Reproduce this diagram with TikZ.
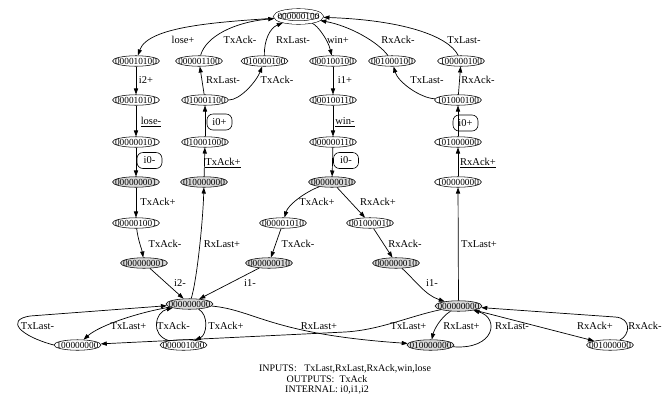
\documentclass[tikz,border=0pt]{standalone}
\usepackage{fontspec}
\setmainfont{Liberation Serif}
\usetikzlibrary{arrows.meta,shapes.geometric}
\definecolor{gry}{HTML}{DADADA}
% state code printed inside a fixed-size ellipse
\newcommand{\stcode}[1]{\makebox[0pt]{\raisebox{-3.1pt}[0pt][0pt]{\fontsize{9.3}{10}\selectfont #1}}}
\tikzset{
  st/.style={ellipse, draw, line width=0.55pt, minimum width=47pt, minimum height=10.5pt, inner sep=0pt},
  gst/.style={st, fill=gry},
  lbl/.style={font=\fontsize{10.5}{12}\selectfont, inner sep=0pt},
  ftr/.style={font=\fontsize{10}{11}\selectfont, inner sep=0pt},
  bx/.style={lbl, draw, line width=0.6pt, rounded corners=6pt, minimum width=25pt, minimum height=16pt},
  ed/.style={line width=0.7pt, -{Triangle[length=6pt,width=4.2pt]}},
}
\begin{document}
\begin{tikzpicture}[x=1pt,y=-1pt]
\fill[white] (0,0) rectangle (669,408);
\useasboundingbox (0,0) rectangle (669,408);

% states
\node[st, double, double distance=3pt, minimum width=46pt, minimum height=12pt, outer sep=2.1pt] (T) at (298.5,16.5) {\stcode{000000100}};
\node[st] (a1) at (136,61) {\stcode{000010100}};
\node[st] (b1) at (199,61) {\stcode{000001100}};
\node[st] (c1) at (264.5,61) {\stcode{010000100}};
\node[st] (d1) at (333,61) {\stcode{000100100}};
\node[st] (e1) at (392,61) {\stcode{001000100}};
\node[st] (f1) at (461,61) {\stcode{100000100}};
\node[st] (a2) at (136,100) {\stcode{000010101}};
\node[st] (b2) at (205,100) {\stcode{010001100}};
\node[st] (d2) at (333,100) {\stcode{000100110}};
\node[st] (f2) at (458,100) {\stcode{101000100}};
\node[st] (a3) at (136,142) {\stcode{000000101}};
\node[st] (b3) at (205,142) {\stcode{010001000}};
\node[st] (d3) at (333,142) {\stcode{000000110}};
\node[st] (f3) at (458,142) {\stcode{101000000}};
\node[gst] (a4) at (136,182) {\stcode{000000001}};
\node[gst] (b4) at (204,182) {\stcode{010000000}};
\node[gst] (d4) at (332,182) {\stcode{000000010}};
\node[st] (f4) at (458,182) {\stcode{100000000}};
\node[st] (a5) at (136,223) {\stcode{000001001}};
\node[st] (d5) at (283,223) {\stcode{000001010}};
\node[st] (e5) at (370,223) {\stcode{001000010}};
\node[gst] (a6) at (144,263) {\stcode{000000001}};
\node[gst] (d6) at (269,263) {\stcode{000000010}};
\node[gst] (e6) at (396,263) {\stcode{000000010}};
\node[gst] (h1) at (189.5,304) {\stcode{000000000}};
\node[gst] (h2) at (458.5,306) {\stcode{000000000}};
\node[st] (l1) at (77.5,345) {\stcode{100000000}};
\node[st] (l2) at (183.5,345) {\stcode{000001000}};
\node[gst] (m) at (430.5,345) {\stcode{010000000}};
\node[st] (r) at (610,345) {\stcode{001000000}};

% transitions around the top state
\draw[ed] (T) .. controls (220,22) and (148,26) .. (a1);
\draw[ed] (b1) .. controls (206,36) and (235,22) .. (T);
\draw[ed] (c1) .. controls (264,40) and (270,28) .. (T);
\draw[ed] (T) .. controls (318,26) and (328,40) .. (d1);
\draw[ed] (e1) .. controls (378,42) and (350,26) .. (T);
\draw[ed] (f1) .. controls (448,35) and (400,20) .. (T);

% second row
\draw[ed] (a1) -- (a2);
\draw[ed] (b2) -- (b1);
\draw[ed] (b2) .. controls (240,100) and (256,82) .. (c1);
\draw[ed] (d1) -- (d2);
\draw[ed] (f2) .. controls (420,98) and (398,82) .. (e1);
\draw[ed] (f2) -- (f1);

% vertical chains
\draw[ed] (a2) -- (a3);
\draw[ed] (b3) -- (b2);
\draw[ed] (d2) -- (d3);
\draw[ed] (f3) -- (f2);
\draw[ed] (a3) -- (a4);
\draw[ed] (b4) -- (b3);
\draw[ed] (d3) -- (d4);
\draw[ed] (f4) -- (f3);
\draw[ed] (a4) -- (a5);
\draw[ed] (d4) .. controls (305,192) and (288,205) .. (d5);
\draw[ed] (d4) -- (e5);
\draw[ed] (a5) .. controls (138,240) and (142,250) .. (a6);
\draw[ed] (d5) -- (d6);
\draw[ed] (e5) -- (e6);
\draw[ed] (a6) -- (h1);
\draw[ed] (d6) -- (h1);
\draw[ed] (e6) .. controls (415,280) and (425,295) .. (h2);
\draw[ed] (h1) .. controls (197,280) and (203,220) .. (b4);
\draw[ed] (h2) -- (f4);

% bottom row
\draw[ed] (l1.west) .. controls (20,336) and (5,320) .. (30,316) -- (h1);
\draw[ed] (h1) .. controls (140,312) and (100,325) .. (l1);
\draw[ed] (l2) .. controls (150,335) and (155,312) .. (h1);
\draw[ed] (h1) .. controls (209,315) and (207,335) .. (l2);
\draw[ed] (h1) .. controls (255,310) and (270,334) .. (m);
\draw[ed] (h2) .. controls (410,316) and (380,330) .. (345,332) -- (l1);
\draw[ed] (h2) .. controls (440,318) and (434,330) .. (m);
\draw[ed] (m) .. controls (495,350) and (500,318) .. (h2);
\draw[ed] (h2) -- (r);
\draw[ed] (r) .. controls (630,335) and (632,318) .. (615,317) -- (h2);

% transition labels
\node[lbl] (q1) at (183,40) {lose+};
\node[lbl] (q2) at (240,40) {TxAck-};
\node[lbl] (q3) at (293,40) {RxLast-};
\node[lbl] (q4) at (338,40) {win+};
\node[lbl] (q5) at (398,40) {RxAck-};
\node[lbl] (q6) at (464,40) {TxLast-};
\node[lbl] (q7) at (146,80) {i2+};
\node[lbl] (q8) at (223,80) {RxLast-};
\node[lbl] (q9) at (277,80) {TxAck-};
\node[lbl] (q10) at (345,80) {i1+};
\node[lbl] (q11) at (427,80) {TxLast-};
\node[lbl] (q12) at (478,80) {RxAck-};
\node[lbl] (q13) at (151,122) {\underline{lose-}};
\node[bx] (q14) at (219.5,122) {i0+};
\node[lbl] (q15) at (345,122) {\underline{win-}};
\node[bx] (q16) at (465.5,123) {i0+};
\node[bx] (q17) at (149.5,160.5) {i0-};
\node[lbl] (q18) at (223,163) {\underline{TxAck+}};
\node[bx] (q19) at (346,160.5) {i0-};
\node[lbl] (q20) at (478,163) {\underline{RxAck+}};
\node[lbl] (q21) at (158,202) {TxAck+};
\node[lbl] (q22) at (317,202) {TxAck+};
\node[lbl] (q23) at (378,202) {RxAck+};
\node[lbl] (q24) at (165,244) {TxAck-};
\node[lbl] (q25) at (222,244) {RxLast+};
\node[lbl] (q26) at (298,244) {TxAck-};
\node[lbl] (q27) at (405,244) {RxAck-};
\node[lbl] (q28) at (479,244) {TxLast+};
\node[lbl] (q29) at (180,283) {i2-};
\node[lbl] (q30) at (250,283) {i1-};
\node[lbl] (q31) at (432,283) {i1-};
\node[lbl] (q32) at (37.5,326) {TxLast-};
\node[lbl] (q33) at (128.5,326) {TxLast+};
\node[lbl] (q34) at (173.5,326) {TxAck-};
\node[lbl] (q35) at (226,326) {TxAck+};
\node[lbl] (q36) at (319,326) {RxLast+};
\node[lbl] (q37) at (408.5,326) {TxLast+};
\node[lbl] (q38) at (461.5,326) {RxLast+};
\node[lbl] (q39) at (512,326) {RxLast-};
\node[lbl] (q40) at (595,326) {RxAck+};
\node[lbl] (q41) at (645,326) {RxAck-};

% signal summary
\node[ftr] (in1) at (345,369) {INPUTS:\ \ \ TxLast,RxLast,RxAck,win,lose};
\node[ftr] (in2) at (327,379.5) {OUTPUTS:\ \ TxAck};
\node[ftr] (in3) at (327,390) {INTERNAL:\ i0,i1,i2};
\end{tikzpicture}
\end{document}
